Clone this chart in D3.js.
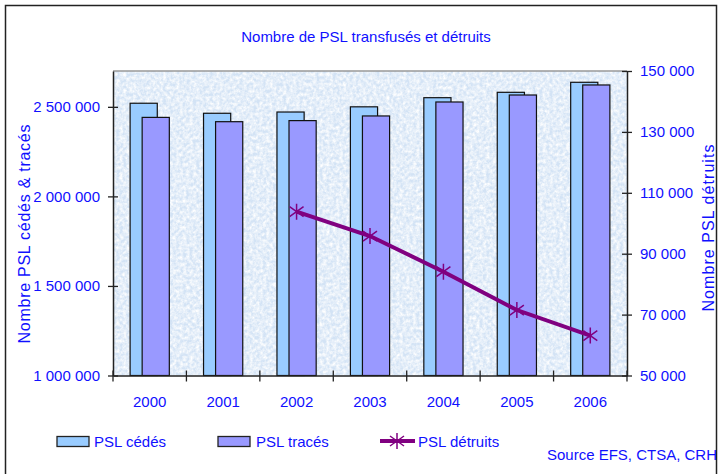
<!DOCTYPE html>
<html>
<head>
<meta charset="utf-8">
<script src="https://cdn.jsdelivr.net/npm/d3@7"></script>
<style>
  body { margin: 0; background: #fff; }
  text { font-family: "Liberation Sans", Arial, sans-serif; fill: #1010ff; }
</style>
</head>
<body>
<svg id="chart" width="719" height="474"></svg>
<script>
const YEARS = ['2000', '2001', '2002', '2003', '2004', '2005', '2006'];
const PSL_CEDES = [2520000, 2464000, 2471000, 2500000, 2551000, 2581000, 2637000];
const PSL_TRACES = [2441000, 2417000, 2423000, 2449000, 2527000, 2566000, 2622000];
// only known from 2002
const PSL_DETRUITS = [null, null, 103800, 95800, 84100, 71500, 63100];
const LEFT_TICKS = [1000000, 1500000, 2000000, 2500000];
const RIGHT_TICKS = [50000, 70000, 90000, 110000, 130000, 150000];

const PLOT = { left: 113, right: 627, top: 71, bottom: 375.5 };

const svg = d3.select('#chart');
const fmt = v => d3.format(',')(v).replace(/,/g, ' ');

// outer frame
svg.append('rect')
  .attr('x', 5.5).attr('y', 5.5)
  .attr('width', 711).attr('height', 490)
  .attr('fill', 'none').attr('stroke', '#222').attr('stroke-width', 1.5);

svg.append('text')
  .attr('x', 366).attr('y', 42)
  .attr('text-anchor', 'middle')
  .style('font-size', '15px')
  .text('Nombre de PSL transfusés et détruits');

const x = d3.scaleBand().domain(YEARS).range([PLOT.left, PLOT.right]);
const yL = d3.scaleLinear().domain([1000000, 2700000]).range([PLOT.bottom, PLOT.top]);
const yR = d3.scaleLinear().domain([50000, 150000]).range([PLOT.bottom, PLOT.top]);

// paper like background
const defs = svg.append('defs');
const f = defs.append('filter').attr('id', 'paper')
  .attr('x', 0).attr('y', 0).attr('width', 1).attr('height', 1);
f.append('feTurbulence').attr('type', 'fractalNoise')
  .attr('baseFrequency', 0.3).attr('numOctaves', 3).attr('seed', 4);
f.append('feColorMatrix').attr('type', 'matrix')
  .attr('values', '0 0 0 0 1  0 0 0 0 1  0 0 0 0 1  1.8 0 0 0 -0.5');

svg.append('rect')
  .attr('x', PLOT.left).attr('y', PLOT.top)
  .attr('width', PLOT.right - PLOT.left).attr('height', PLOT.bottom - PLOT.top)
  .attr('fill', '#d3e3f5');
svg.append('rect')
  .attr('x', PLOT.left).attr('y', PLOT.top)
  .attr('width', PLOT.right - PLOT.left).attr('height', PLOT.bottom - PLOT.top)
  .attr('fill', '#fff')
  .attr('filter', 'url(#paper)');

// top border of the plot area
svg.append('line')
  .attr('x1', PLOT.left).attr('x2', PLOT.right)
  .attr('y1', PLOT.top).attr('y2', PLOT.top)
  .attr('stroke', '#999').attr('stroke-width', 1.5);

// bars
const bw = x.bandwidth() * 0.37;
const shift = x.bandwidth() * 0.082;
const cx = d => x(d) + x.bandwidth() / 2;

svg.append('g').selectAll('rect')
  .data(YEARS)
  .enter().append('rect')
    .attr('x', (d, i) => cx(d) - bw / 2 - shift)
    .attr('y', (d, i) => yL(PSL_CEDES[i]))
    .attr('width', bw)
    .attr('height', (d, i) => PLOT.bottom - yL(PSL_CEDES[i]))
    .attr('fill', '#99ccff').attr('stroke', '#111').attr('stroke-width', 1.2);

svg.append('g').selectAll('rect')
  .data(YEARS)
  .enter().append('rect')
    .attr('x', (d, i) => cx(d) - bw / 2 + shift)
    .attr('y', (d, i) => yL(PSL_TRACES[i]))
    .attr('width', bw)
    .attr('height', (d, i) => PLOT.bottom - yL(PSL_TRACES[i]))
    .attr('fill', '#9999ff').attr('stroke', '#111').attr('stroke-width', 1.2);

// axes
const left = svg.append('g')
  .attr('transform', `translate(${PLOT.left},0)`)
  .call(d3.axisLeft(yL).tickValues(LEFT_TICKS).tickFormat(fmt).tickSize(5).tickPadding(8).tickSizeOuter(0));
const right = svg.append('g')
  .attr('transform', `translate(${PLOT.right},0)`)
  .call(d3.axisRight(yR).tickValues(RIGHT_TICKS).tickFormat(fmt).tickSize(5).tickPadding(8).tickSizeOuter(0));
left.selectAll('.tick line').attr('x1', 5);
right.selectAll('.tick line').attr('x1', -5);

const bottom = svg.append('g')
  .attr('transform', `translate(0,${PLOT.bottom})`)
  .call(d3.axisBottom(x).tickSize(0).tickPadding(21).tickSizeOuter(0));

// category separators on the x axis
const bounds = YEARS.map(d => x(d)).concat([PLOT.right]);
svg.append('g').selectAll('line')
  .data(bounds)
  .enter().append('line')
    .attr('x1', d => d).attr('x2', d => d)
    .attr('y1', PLOT.bottom - 5).attr('y2', PLOT.bottom + 6)
    .attr('stroke', '#222').attr('stroke-width', 1.3);

[left, right, bottom].forEach(g => {
  g.select('.domain').attr('stroke', '#222').attr('stroke-width', 1.5);
  g.selectAll('.tick line').attr('stroke', '#222').attr('stroke-width', 1.3);
  g.selectAll('.tick text')
    .style('font-size', '15px')
    .style('font-family', '"Liberation Sans", Arial, sans-serif')
    .attr('fill', '#1010ff');
});

// line for destroyed PSL
const pts = YEARS.map((d, i) => ({ year: d, v: PSL_DETRUITS[i] })).filter(p => p.v != null);
svg.append('path')
  .datum(pts)
  .attr('fill', 'none').attr('stroke', '#800080').attr('stroke-width', 4)
  .attr('d', d3.line().x(p => cx(p.year)).y(p => yR(p.v)));

const star = 'M0,-8V8M-7,-5L7,5M-7,5L7,-5';
svg.append('g').selectAll('path')
  .data(pts)
  .enter().append('path')
    .attr('transform', p => `translate(${cx(p.year)},${yR(p.v)})`)
    .attr('d', star)
    .attr('fill', 'none').attr('stroke', '#800080').attr('stroke-width', 1.5);

// axis titles
svg.append('text')
  .attr('transform', 'translate(30,234) rotate(-90)')
  .attr('text-anchor', 'middle')
  .style('font-size', '16px')
  .attr('textLength', 219).attr('lengthAdjust', 'spacing')
  .text('Nombre PSL cédés & tracés');
svg.append('text')
  .attr('transform', 'translate(714,228) rotate(-90)')
  .attr('text-anchor', 'middle')
  .style('font-size', '16px')
  .attr('textLength', 167).attr('lengthAdjust', 'spacing')
  .text('Nombre PSL détruits');

// legend
const legend = svg.append('g');
legend.append('rect').attr('x', 57).attr('y', 436.5).attr('width', 32).attr('height', 10)
  .attr('fill', '#99ccff').attr('stroke', '#222').attr('stroke-width', 1.3);
legend.append('text').attr('x', 94).attr('y', 446.5).style('font-size', '15px').text('PSL cédés');
legend.append('rect').attr('x', 218).attr('y', 436.5).attr('width', 32).attr('height', 10)
  .attr('fill', '#9999ff').attr('stroke', '#222').attr('stroke-width', 1.3);
legend.append('text').attr('x', 256).attr('y', 446.5).style('font-size', '15px').text('PSL tracés');
legend.append('line').attr('x1', 380).attr('x2', 415).attr('y1', 441).attr('y2', 441)
  .attr('stroke', '#800080').attr('stroke-width', 4);
legend.append('path').attr('transform', 'translate(397,441)').attr('d', star)
  .attr('fill', 'none').attr('stroke', '#800080').attr('stroke-width', 1.5);
legend.append('text').attr('x', 418).attr('y', 446.5).style('font-size', '15px').text('PSL détruits');

svg.append('text')
  .attr('x', 547).attr('y', 459.5)
  .style('font-size', '15px')
  .text('Source EFS, CTSA, CRH');
</script>
</body>
</html>
